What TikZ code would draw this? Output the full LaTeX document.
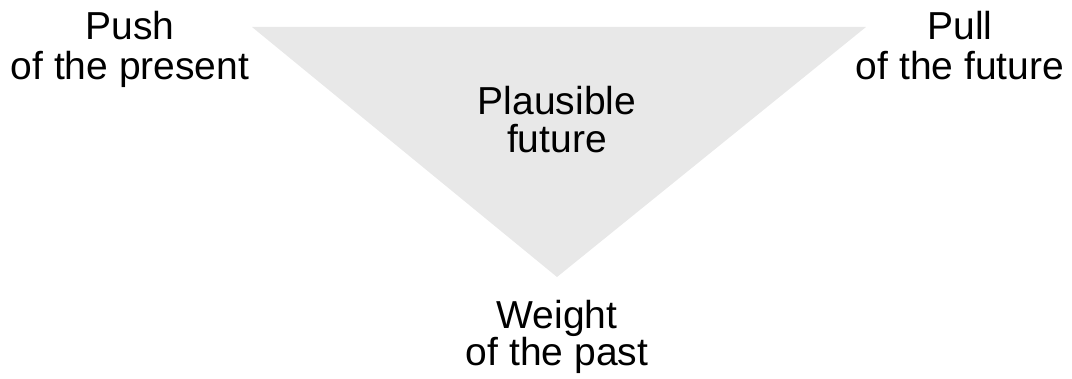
\documentclass[tikz,border=0pt]{standalone}
\usepackage{fontspec}
\setmainfont{Liberation Sans}
\definecolor{trifill}{RGB}{232,232,232}
\begin{document}
\begin{tikzpicture}[x=1pt,y=-1pt,
  lbl/.style={align=center,inner sep=0pt,font=\fontsize{39}{40}\selectfont,anchor=base}]
\useasboundingbox (0,0) rectangle (1072,379);
\coordinate (tl) at (252,27);
\coordinate (tr) at (866,27);
\coordinate (bt) at (557,277);
\fill[trifill] (tl) -- (tr) -- (bt) -- cycle;
\node[lbl] (push) at (130,80) {Push\\of the present};
\node[lbl] (pull) at (960,80) {Pull\\of the future};
\node[lbl] (plaus) at (557,153) {Plausible\\[-2pt]future};
\node[lbl] (weight) at (557,366) {Weight\\[-3pt]of the past};
\end{tikzpicture}
\end{document}
